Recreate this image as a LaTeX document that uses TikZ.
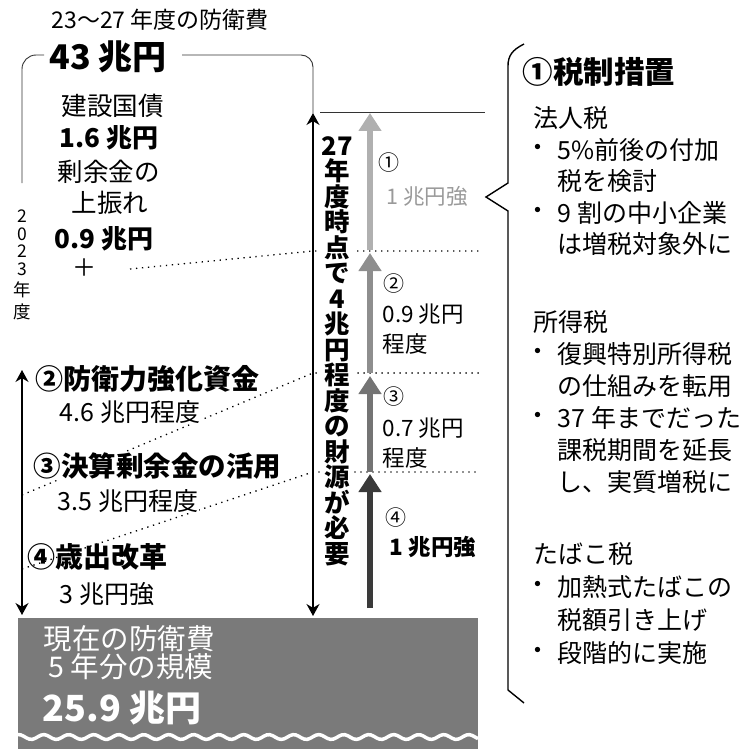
\documentclass[tikz,border=0pt]{standalone}
\usepackage{fontspec}
\setmainfont{Noto Sans CJK JP}
\usetikzlibrary{arrows.meta}
\newcommand\fsz[1]{\fontsize{#1}{#1}\selectfont}
\definecolor{boxgray}{HTML}{7A7A7A}
\definecolor{bar1}{HTML}{B0B0B0}
\definecolor{bar2}{HTML}{8E8E8E}
\definecolor{bar3}{HTML}{747474}
\definecolor{bar4}{HTML}{3A3A3A}
\definecolor{lighttxt}{HTML}{9A9A9A}
\begin{document}
\begin{tikzpicture}[x=1pt,y=-1pt,
  lbl/.style={anchor=west,inner sep=0.5pt},
  wlbl/.style={lbl,fill=white},
  dotl/.style={line width=1.3pt,dash pattern=on 1.3pt off 4.7pt},
  thinl/.style={line width=0.9pt,black!80},
  dimarr/.style={line width=1.5pt,{Stealth[length=12pt,width=13pt]}-{Stealth[length=12pt,width=13pt]}},
  bar/.style={line width=6pt,-{Triangle[length=18pt,width=22pt]}},
  rtxt/.style={lbl,font=\fsz{25}},
]
\useasboundingbox (0,0) rectangle (746,749);

% bottom box
\fill[boxgray] (18,618) rectangle (478,749);
\draw[white,line width=3.5pt] plot[domain=18:478,samples=160,smooth] (\x,{737+2.4*sin(\x*14.4)});
\node[lbl,text=white,font=\fsz{28.5}] (now1) at (43,639) {現在の防衛費};
\node[lbl,text=white,font=\fsz{28.5}] (now2) at (48,667) {5 年分の規模};
\node[lbl,text=white,font=\fsz{36}\bfseries] (now3) at (42,708) {25.9 兆円};

% coordinates
\coordinate (bt) at (313,113);
\coordinate (bb) at (313,616);
\coordinate (lt) at (22,370);
\coordinate (lb) at (22,615);
\coordinate (k1) at (44,55);
\coordinate (k2) at (22,183);
\coordinate (k3) at (182,55);
\coordinate (h1) at (320,112);
\coordinate (h2) at (485,112);
\coordinate (d1a) at (130,269);
\coordinate (d1b) at (313,251);
\coordinate (d1c) at (480,251);
\coordinate (d2a) at (22,495);
\coordinate (d2b) at (313,373);
\coordinate (d2c) at (480,373);
\coordinate (d3a) at (22,569);
\coordinate (d3b) at (313,472);
\coordinate (d3c) at (480,472);

% bracket of the 43 trillion
\draw[thinl,rounded corners=14pt] (k1) -- (22,55) -- (k2);
\draw[thinl,rounded corners=12pt] (k3) -- (313,55) -- (bt);
\draw[thinl] (h1) -- (h2);

% dotted lines
\draw[dotl] (d1a) -- (d1b) -- (d1c);
\draw[dotl] (d2a) -- (d2b) -- (d2c);
\draw[dotl] (d3a) -- (d3b) -- (d3c);

% double arrows
\draw[dimarr] (bt) -- (bb);
\draw[dimarr] (lt) -- (lb);

% bars
\coordinate (a1s) at (370,250); \coordinate (a1e) at (370,113);
\coordinate (a2s) at (370,373); \coordinate (a2e) at (370,253);
\coordinate (a3s) at (370,472); \coordinate (a3e) at (370,376);
\coordinate (a4s) at (370,608); \coordinate (a4e) at (370,474);
\draw[bar,bar1] (a1s) -- (a1e);
\draw[bar,bar2] (a2s) -- (a2e);
\draw[bar,bar3] (a3s) -- (a3e);
\draw[bar,bar4] (a4s) -- (a4e);

% title
\node[lbl,font=\fsz{23}] (title) at (51,20) {23〜27 年度の防衛費};
\node[lbl,font=\fsz{34}\bfseries] (total) at (49,57) {43 兆円};

% 2023 column
\node[lbl,font=\fsz{25.5}] (kensetsu) at (61,106) {建設国債};
\node[lbl,font=\fsz{26}\bfseries] (k16) at (59,138) {1.6 兆円};
\node[lbl,font=\fsz{25.5}] (jouyo) at (57,172) {剰余金の};
\node[lbl,font=\fsz{25.5}] (uwabure) at (71,203) {上振れ};
\node[lbl,font=\fsz{26}\bfseries] (k09) at (54,239) {0.9 兆円};
\node[inner sep=0pt,font=\fsz{24}] (plus) at (84,268) {＋};
\node[anchor=north,inner sep=0pt,align=center,font=\fontsize{17.5}{17.5}\selectfont] (yr) at (22,210)
  {2\\0\\2\\3\\[4pt]年\\[4pt]度};

% funding items
\node[wlbl,font=\fsz{28}\bfseries] (f2) at (35,379) {②防衛力強化資金};
\node[wlbl,font=\fsz{25}] (f2v) at (59,412) {4.6 兆円程度};
\node[wlbl,font=\fsz{27.5}\bfseries] (f3) at (33,466) {③決算剰余金の活用};
\node[wlbl,font=\fsz{25}] (f3v) at (57,501) {3.5 兆円程度};
\node[lbl,font=\fsz{28}\bfseries] (f4) at (27,557) {④歳出改革};
\node[lbl,font=\fsz{25}] (f4v) at (59,594) {3 兆円強};

% vertical text
\node[fill=white,inner sep=0pt,align=center,font=\fontsize{25.5}{25.5}\selectfont\bfseries] (need) at (337,351)
  {27\\年\\度\\時\\点\\で\\4\\兆\\円\\程\\度\\の\\財\\源\\が\\必\\要};

% bar labels
\node[inner sep=0pt,font=\fsz{21}] (n1) at (389,163) {①};
\node[lbl,font=\fsz{21.5},text=lighttxt] (v1) at (386,196) {1 兆円強};
\node[inner sep=0pt,font=\fsz{21}] (n2) at (394,284) {②};
\node[lbl,font=\fsz{22.5}] (v2) at (382,314) {0.9 兆円};
\node[lbl,font=\fsz{22.5}] (v2b) at (382,344) {程度};
\node[inner sep=0pt,font=\fsz{21}] (n3) at (394,397) {③};
\node[lbl,font=\fsz{22.5}] (v3) at (382,428) {0.7 兆円};
\node[lbl,font=\fsz{22.5}] (v3b) at (382,458) {程度};
\node[inner sep=0pt,font=\fsz{21}] (n4) at (396,518) {④};
\node[lbl,font=\fsz{22.5}\bfseries] (v4) at (389,547) {1 兆円強};

% right brace
\draw[line width=1.4pt] (524,44) .. controls (512,50) and (508,56) .. (508,66) -- (508,183) -- (486,197) -- (508,211) -- (508,690) -- (524,703);

% right column
\node[lbl,font=\fsz{30.5}\bfseries] (tax) at (522,72) {①税制措置};
\node[rtxt] (h1t) at (533,118) {法人税};
\node[rtxt] (b1) at (525,150) {・};
\node[rtxt] (t1) at (557,150) {5\%前後の付加};
\node[rtxt] (t2) at (557,181) {税を検討};
\node[rtxt] (b2) at (525,213) {・};
\node[rtxt] (t3) at (557,213) {9 割の中小企業};
\node[rtxt] (t4) at (557,244) {は増税対象外に};

\node[rtxt] (h2t) at (533,322) {所得税};
\node[rtxt] (b3) at (525,354) {・};
\node[rtxt] (t5) at (557,354) {復興特別所得税};
\node[rtxt] (t6) at (557,386) {の仕組みを転用};
\node[rtxt] (b4) at (525,418) {・};
\node[rtxt] (t7) at (557,418) {37 年までだった};
\node[rtxt] (t8) at (557,450) {課税期間を延長};
\node[rtxt] (t9) at (557,482) {し、実質増税に};

\node[rtxt] (h3t) at (533,554) {たばこ税};
\node[rtxt] (b5) at (525,587) {・};
\node[rtxt] (t10) at (557,587) {加熱式たばこの};
\node[rtxt] (t11) at (557,620) {税額引き上げ};
\node[rtxt] (b6) at (525,653) {・};
\node[rtxt] (t12) at (557,653) {段階的に実施};
\end{tikzpicture}
\end{document}
